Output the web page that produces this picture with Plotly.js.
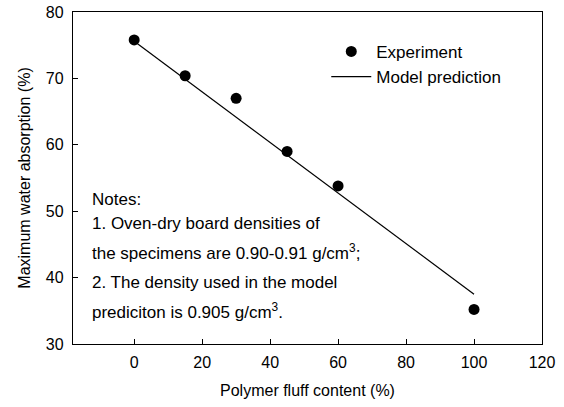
<!DOCTYPE html>
<html>
<head>
<meta charset="utf-8">
<script src="https://cdn.plot.ly/plotly-3.0.1.min.js"></script>
<style>html,body{margin:0;padding:0;background:#fff;}#chart{width:564px;height:407px;}</style>
</head>
<body>
<div id="chart"></div>
<script>
// Data
const fluffContent = [0, 15, 30, 45, 60, 100];
const waterAbsorption = [75.8, 70.4, 67.0, 59.0, 53.8, 35.2];
const modelX = [0, 100];
const modelY = [75.6, 37.5];
const xTicks = [0, 20, 40, 60, 80, 100, 120];
const yTicks = [30, 40, 50, 60, 70, 80];
const noteLines = [
  "Notes:",
  "1. Oven-dry board densities of",
  "the specimens are 0.90-0.91 g/cm<sup>3</sup>;",
  "2. The density used in the model",
  "prediciton is 0.905 g/cm<sup>3</sup>."
];
const noteY = [51.7, 48.1, 43.8, 39.3, 34.9];

const fam = "Liberation Sans, Arial, sans-serif";
const textFont = {family: fam, size: 17, color: "#000"};
const tickFont = {family: fam, size: 16, color: "#000"};
const titleFont = {family: fam, size: 16, color: "#000"};

const traces = [
  {x: fluffContent, y: waterAbsorption, mode: "markers", name: "Experiment",
   marker: {color: "#000", size: 11}},
  {x: modelX, y: modelY, mode: "lines", name: "Model prediction",
   line: {color: "#000", width: 1.2}}
];

const annotations = noteLines.map((t, i) => ({
  text: t, x: -13, y: noteY[i], xref: "x", yref: "y",
  xanchor: "left", yanchor: "middle", showarrow: false,
  font: textFont, align: "left"
}));

const layout = {
  width: 564, height: 407,
  margin: {l: 73, r: 22, t: 12, b: 63},
  paper_bgcolor: "#fff", plot_bgcolor: "#fff",
  font: textFont,
  showlegend: true,
  legend: {x: 0.54, y: 0.934, xanchor: "left", yanchor: "top",
           bgcolor: "rgba(0,0,0,0)", borderwidth: 0, itemwidth: 40,
           font: textFont},
  xaxis: {range: [-18, 120], tickvals: xTicks, ticks: "inside", ticklen: 5,
          tickcolor: "#000", showline: true, linecolor: "#000", linewidth: 1.2,
          mirror: true, showgrid: false, zeroline: false, tickfont: tickFont,
          ticklabelstandoff: 4,
          title: {text: "Polymer fluff content (%)", font: titleFont, standoff: 14}},
  yaxis: {range: [30, 80], tickvals: yTicks, ticks: "inside", ticklen: 5,
          tickcolor: "#000", showline: true, linecolor: "#000", linewidth: 1.2,
          mirror: true, showgrid: false, zeroline: false, tickfont: tickFont,
          ticklabelstandoff: 5,
          title: {text: "Maximum water absorption (%)", font: titleFont, standoff: 11}},
  annotations: annotations
};

Plotly.newPlot("chart", traces, layout, {staticPlot: true, displayModeBar: false});
</script>
</body>
</html>
